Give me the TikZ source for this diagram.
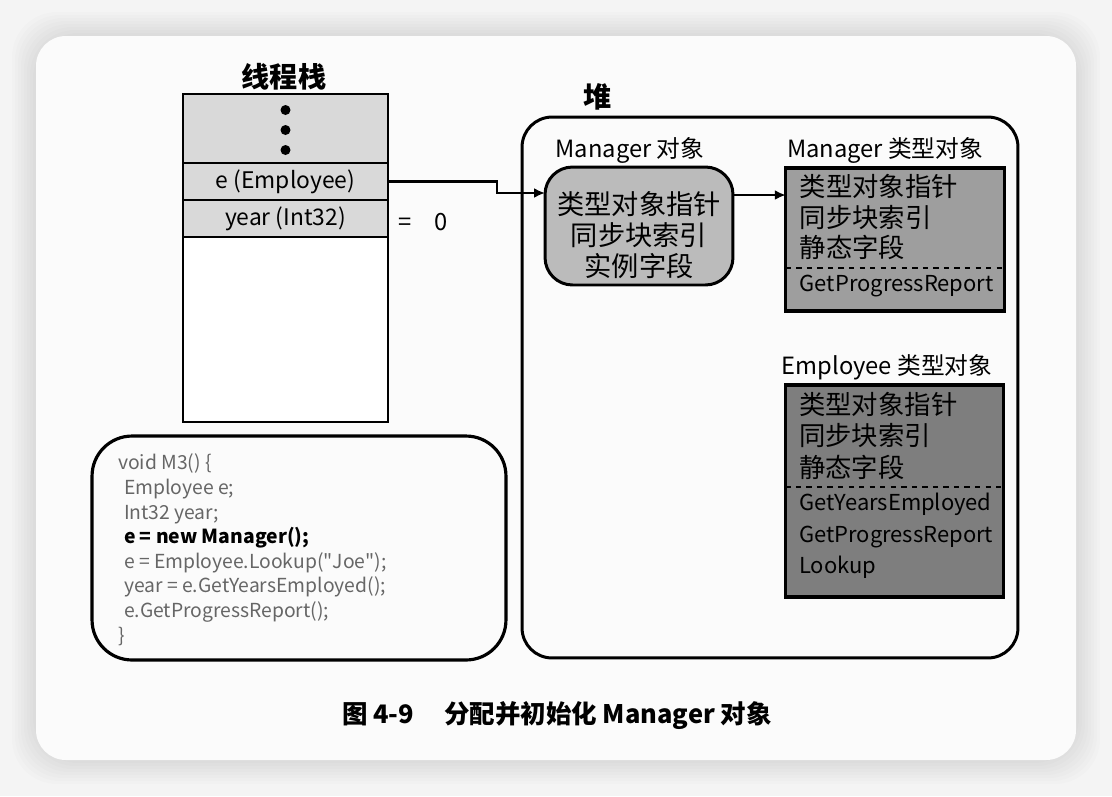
\documentclass[tikz,border=0pt]{standalone}
\usepackage{fontspec}
\setmainfont{Noto Sans CJK SC}
\usetikzlibrary{positioning,arrows.meta}
\definecolor{pagebg}{HTML}{F4F4F4}
\definecolor{cardbg}{HTML}{FBFBFB}
\definecolor{stackgray}{HTML}{D9D9D9}
\definecolor{objgray}{HTML}{BBBBBB}
\definecolor{mtypegray}{HTML}{9E9E9E}
\definecolor{etypegray}{HTML}{7E7E7E}
\definecolor{codegray}{HTML}{666666}

\begin{document}
\begin{tikzpicture}[x=0.02cm,y=-0.02cm,
  every node/.style={inner sep=0pt,outer sep=0pt},
  cell/.style={draw,line width=1.6pt,fill=stackgray,minimum width=4.1cm,minimum height=0.74cm,font=\fontsize{13}{15}\selectfont},
  title/.style={font=\bfseries\fontsize{16}{18}\selectfont},
  caption/.style={font=\fontsize{13.5}{16}\selectfont},
  typebox/.style={draw,line width=1.8pt,minimum width=4.37cm},
  boxtext/.style={align=left,anchor=north west,font=\fontsize{15}{17.5}\selectfont},
  arrow/.style={line width=1.5pt,-{Latex[length=0.22cm,width=0.2cm]}}]

% page and card
\useasboundingbox (0,0) rectangle (1112,796);
\fill[pagebg] (0,0) rectangle (1112,796);
\foreach \d in {24,21,...,3}
  \fill[black,fill opacity=0.012,rounded corners=0.9cm] (36-\d,36-\d) rectangle (1076+\d,760+\d);
\fill[cardbg,rounded corners=0.6cm] (36,36) rectangle (1076,760);

% thread stack
\node[title] at (284,77) {线程栈};
\node[cell,minimum height=1.38cm] (dots) at (285.5,128.5) {};
\foreach \y in {110,130,150}
  \fill (285.5,\y) circle (0.1cm);
\node[cell,below=0pt of dots] (e) {e (Employee)};
\node[cell,below=0pt of e] (year) {year (Int32)};
\node[cell,fill=white,minimum height=3.7cm,below=0pt of year] (free) {};
\node[caption] at (423,222) {=\hspace{0.45cm}0};

% heap
\node[title] at (598,97) {堆};
\node[draw,line width=1.7pt,rounded corners=0.6cm,minimum width=9.92cm,minimum height=10.82cm] (heap) at (770,387.5) {};

% Manager object
\node[caption] at (630,150) {Manager 对象};
\node[draw,line width=1.7pt,fill=objgray,rounded corners=0.55cm,minimum width=3.76cm,minimum height=2.36cm] (mobj) at (639,226) {};
\node[align=center,font=\fontsize{15.5}{17.6}\selectfont] at ([yshift=-0.18cm]mobj.center) {类型对象指针\\同步块索引\\实例字段};

% Manager type object
\node[caption] at (885,150) {Manager 类型对象};
\node[typebox,fill=mtypegray,minimum height=2.86cm] (mtype) at (895,239.5) {};
\node[boxtext] at ([xshift=0.28cm,yshift=-0.12cm]mtype.north west) {类型对象指针\\同步块索引\\静态字段};
\draw[dashed,line width=1.2pt] ([yshift=-2cm]mtype.north west) -- ([yshift=-2cm]mtype.north east);
\node[boxtext,font=\fontsize{12.5}{18}\selectfont] at ([xshift=0.28cm,yshift=-2.14cm]mtype.north west) {GetProgressReport};

% Employee type object
\node[caption] at (887,367) {Employee 类型对象};
\node[typebox,fill=etypegray,minimum height=4.24cm] (etype) at (894.5,491) {};
\node[boxtext,font=\fontsize{15}{18}\selectfont] at ([xshift=0.28cm,yshift=-0.14cm]etype.north west) {类型对象指针\\同步块索引\\静态字段};
\draw[dashed,line width=1.2pt] ([yshift=-2.04cm]etype.north west) -- ([yshift=-2.04cm]etype.north east);
\node[boxtext,font=\fontsize{12.5}{18}\selectfont] at ([xshift=0.28cm,yshift=-2.16cm]etype.north west) {GetYearsEmployed\\GetProgressReport\\Lookup};

% pointers
\coordinate (bend) at (497,193);
\draw[arrow] (e.east) -| (bend) -- (bend -| mobj.west);
\coordinate (ptr) at ([yshift=0.62cm]mobj.east);
\draw[arrow] (ptr) -- (ptr -| mtype.west);

% source code
\node[draw,line width=1.8pt,rounded corners=0.8cm,minimum width=8.28cm,minimum height=4.48cm] (code) at (299,548) {};
\node[anchor=north west,align=left,text=codegray,font=\fontsize{11}{14}\selectfont] at ([xshift=0.52cm,yshift=-0.36cm]code.north west) {void M3() \{\\
\hspace{0.12cm}Employee e;\\
\hspace{0.12cm}Int32 year;\\
\hspace{0.12cm}{\color{black}\bfseries e = new Manager();}\\
\hspace{0.12cm}e = Employee.Lookup(\textquotedbl Joe\textquotedbl);\\
\hspace{0.12cm}year = e.GetYearsEmployed();\\
\hspace{0.12cm}e.GetProgressReport();\\
\}};

% caption
\node[font=\bfseries\fontsize{14.5}{16}\selectfont] at (557,716) {图 4-9\hspace{0.6cm}分配并初始化 Manager 对象};
\end{tikzpicture}
\end{document}
